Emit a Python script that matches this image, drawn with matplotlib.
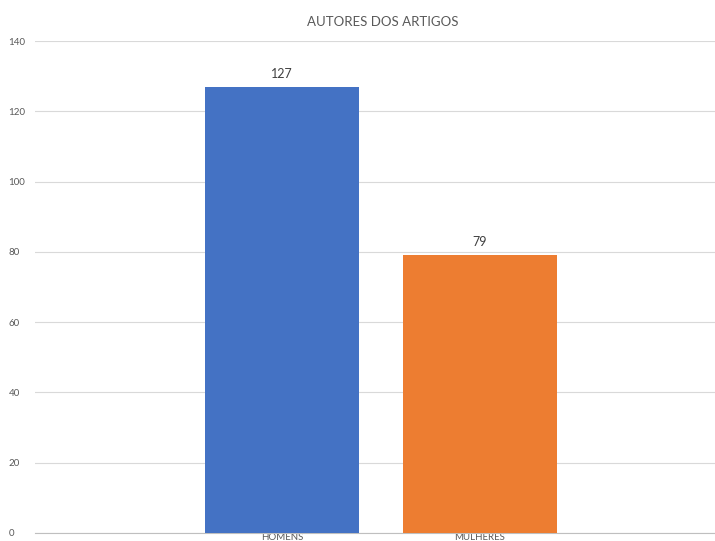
import matplotlib

matplotlib.use("Agg")

import matplotlib.pyplot as plt

categories = ["HOMENS", "MULHERES"]
values = [127, 79]
colors = ["#4472C4", "#ED7D31"]
yticks = [0, 20, 40, 60, 80, 100, 120, 140]

plt.rcParams["font.family"] = ["Lato", "DejaVu Sans"]

fig = plt.figure(figsize=(7.15, 5.41), dpi=100)
ax = fig.add_axes([35 / 715, 1 - 533 / 541, 1 - 35 / 715, (533 - 41) / 541])

positions = range(len(categories))
bars = ax.bar(positions, values, width=0.78, color=colors, zorder=3)
for bar, val in zip(bars, values):
    ax.annotate(str(val), (bar.get_x() + bar.get_width() / 2, val),
                xytext=(0, 5), textcoords="offset points",
                ha="center", va="bottom", fontsize=9, color="#404040")

ax.set_ylim(0, 140)
ax.set_xlim(-1.247, 2.187)
ax.set_yticks(yticks)
ax.set_xticks(list(positions))
ax.set_xticklabels(categories)
ax.tick_params(axis="both", length=0, labelsize=7, labelcolor="#595959")
ax.tick_params(axis="x", pad=0)
ax.tick_params(axis="y", pad=19)
for lbl in ax.get_yticklabels():
    lbl.set_horizontalalignment("left")

ax.grid(axis="y", color="#d9d9d9", linewidth=0.8, zorder=0)
for side in ("top", "right", "left"):
    ax.spines[side].set_visible(False)
ax.spines["bottom"].set_color("#bfbfbf")

fig.text(383 / 715, 1 - 22 / 541, "AUTORES DOS ARTIGOS", ha="center", va="center",
         fontsize=9.5, color="#595959")

fig.savefig("out.png", dpi=100)
